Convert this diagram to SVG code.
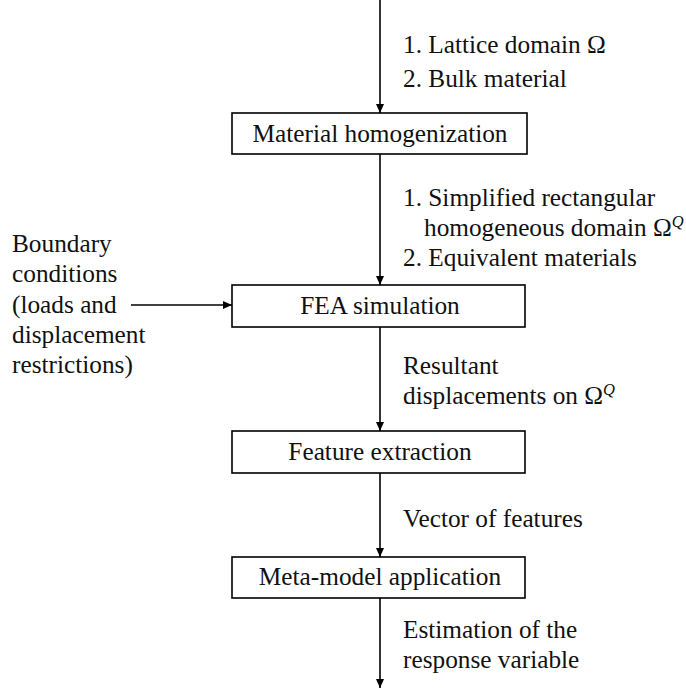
<svg xmlns="http://www.w3.org/2000/svg" width="686" height="688" viewBox="0 0 686 688">
  <style>
    .box { fill: #ffffff; stroke: #000000; stroke-width: 1.6; }
    .edge { stroke: #000000; stroke-width: 1.6; fill: none; marker-end: url(#arrow); }
    .c { text-anchor: middle; }
    .sup { font-style: italic; font-size: 16.5px; }
  </style>
  <defs>
    <marker id="arrow" markerWidth="10" markerHeight="10" refX="9" refY="4" orient="auto" markerUnits="userSpaceOnUse">
      <path d="M0,0 L9,4 L0,8 Z" fill="#000000"/>
    </marker>
  </defs>
  <rect width="686" height="688" fill="#ffffff"/>

  <!-- connectors -->
  <g id="connectors">
    <line class="edge" x1="380" y1="0" x2="380" y2="113"/>
    <line class="edge" x1="380" y1="154" x2="380" y2="285"/>
    <line class="edge" x1="131" y1="305" x2="232" y2="305"/>
    <line class="edge" x1="380" y1="327" x2="380" y2="431"/>
    <line class="edge" x1="380" y1="473" x2="380" y2="557"/>
    <line class="edge" x1="380" y1="598" x2="380" y2="688"/>
  </g>

  <g font-family="Liberation Serif, Times New Roman, serif" font-size="25.3" fill="#111111">
    <!-- connector labels -->
    <g id="labels">
      <text x="403" y="53">1. Lattice domain Ω</text>
      <text x="403" y="87">2. Bulk material</text>

      <text x="403" y="206">1. Simplified rectangular</text>
      <text x="424" y="236">homogeneous domain Ω<tspan class="sup" dy="-9">Q</tspan></text>
      <text x="403" y="266">2. Equivalent materials</text>

      <text x="403" y="374">Resultant</text>
      <text x="403" y="404">displacements on Ω<tspan class="sup" dy="-9">Q</tspan></text>

      <text x="403" y="527">Vector of features</text>

      <text x="403" y="638">Estimation of the</text>
      <text x="403" y="668">response variable</text>
    </g>

    <g id="boundary-conditions">
      <text x="12" y="252">Boundary</text>
      <text x="12" y="282">conditions</text>
      <text x="12" y="313">(loads and</text>
      <text x="12" y="343">displacement</text>
      <text x="12" y="373">restrictions)</text>
    </g>

    <!-- process nodes -->
    <g id="material-homogenization">
      <rect class="box" x="232" y="113" width="295" height="41"/>
      <text class="c" x="380" y="142">Material homogenization</text>
    </g>
    <g id="fea-simulation">
      <rect class="box" x="232" y="285" width="293" height="42"/>
      <text class="c" x="380" y="314">FEA simulation</text>
    </g>
    <g id="feature-extraction">
      <rect class="box" x="232" y="431" width="293" height="42"/>
      <text class="c" x="380" y="460">Feature extraction</text>
    </g>
    <g id="meta-model-application">
      <rect class="box" x="232" y="557" width="293" height="41"/>
      <text class="c" x="380" y="585">Meta-model application</text>
    </g>
  </g>
</svg>
